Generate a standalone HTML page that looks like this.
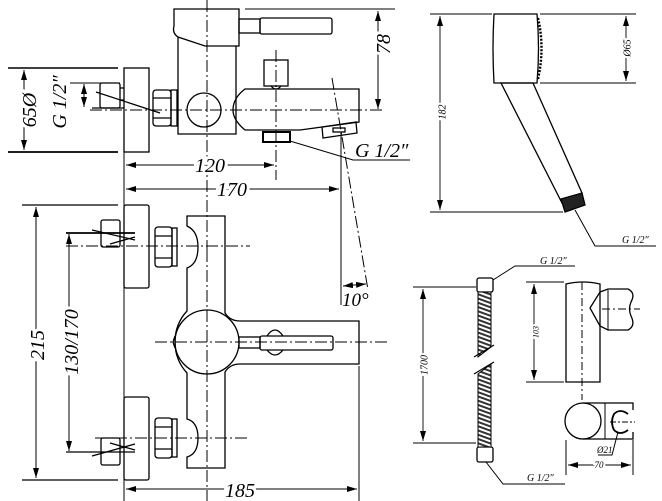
<!DOCTYPE html>
<html><head><meta charset="utf-8"><style>
html,body{margin:0;padding:0;background:#fff}
svg{display:block}
text{font-family:"Liberation Serif",serif;font-style:italic;fill:#000}
</style></head><body>
<svg width="662" height="501" viewBox="0 0 662 501" xmlns="http://www.w3.org/2000/svg">
<defs>
<marker id="a" viewBox="0 0 10 6" refX="10" refY="3" markerWidth="10" markerHeight="6" orient="auto-start-reverse" markerUnits="userSpaceOnUse"><path d="M0,0L10,3L0,6z" fill="#000"/></marker>
<pattern id="h" width="6" height="4" patternUnits="userSpaceOnUse" patternTransform="rotate(20)"><rect width="6" height="4" fill="#fff"/><rect width="6" height="2" fill="#333"/></pattern>
</defs>
<g fill="none" stroke="#000" stroke-width="1.3">
<g stroke-width="1" stroke-dasharray="12,3,2,3">
<line x1="207" y1="0" x2="207" y2="250"/>
<line x1="90" y1="110" x2="385" y2="110"/>
<line x1="276" y1="50" x2="276" y2="180"/>
<line x1="332" y1="78" x2="368" y2="290"/>
<line x1="66" y1="246" x2="250" y2="246"/>
<line x1="95" y1="438" x2="250" y2="438"/>
<line x1="155" y1="342" x2="390" y2="342"/>
<line x1="207" y1="250" x2="207" y2="501"/>
</g>
<path d="M174,9H239V46H205L178,37Q172,33 174,26Z"/>
<rect x="239" y="19" width="21" height="14"/>
<rect x="260" y="18" width="72" height="16" rx="2"/>
<path d="M178,37V134H236V46"/>
<rect x="264" y="60" width="24" height="26"/>
<path d="M271,86Q276,92 281,86"/>
<rect x="124" y="68" width="25" height="84"/>
<rect x="153" y="90" width="18" height="36" rx="3"/>
<line x1="153" y1="98" x2="171" y2="98"/><line x1="153" y1="118" x2="171" y2="118"/>
<rect x="171" y="90" width="6" height="36"/>
<circle cx="204" cy="110" r="17"/>
<path d="M245,89H359V122L300,130H245Q233,120 233,110Q233,98 245,89Z"/>
<rect x="263" y="132" width="27" height="10" stroke-width="2"/>
<path d="M322,127L356,122L357,133L323,138Z"/>
<rect x="333" y="128" width="12" height="4"/>
<rect x="100" y="83" width="20" height="25" rx="2"/>
<line x1="92" y1="108" x2="124" y2="108"/>
<line x1="96" y1="92" x2="160" y2="113"/>
<line x1="120" y1="88" x2="124" y2="88"/><line x1="120" y1="100" x2="124" y2="100"/>
<line x1="8" y1="68" x2="118" y2="68" stroke-width="1.5"/>
<line x1="8" y1="152" x2="118" y2="152" stroke-width="1.8"/>
<line x1="24" y1="70" x2="24" y2="150" stroke-width="1" marker-start="url(#a)" marker-end="url(#a)"/>
<line x1="70" y1="83" x2="120" y2="83" stroke-width="1"/>
<line x1="84" y1="84" x2="84" y2="107" stroke-width="1" marker-start="url(#a)" marker-end="url(#a)"/>
<line x1="245" y1="9" x2="395" y2="9" stroke-width="1"/>
<line x1="378" y1="11" x2="378" y2="109" stroke-width="1" marker-start="url(#a)" marker-end="url(#a)"/>
<line x1="124" y1="152" x2="124" y2="501" stroke-width="1"/>
<line x1="126" y1="165" x2="274" y2="165" stroke-width="1" marker-start="url(#a)" marker-end="url(#a)"/>
<line x1="126" y1="189" x2="339" y2="189" stroke-width="1" marker-start="url(#a)" marker-end="url(#a)"/>
<line x1="341" y1="133" x2="341" y2="305" stroke-width="1"/>
<line x1="343" y1="286" x2="366" y2="284" stroke-width="1" marker-start="url(#a)" marker-end="url(#a)"/>
<polyline points="290,141 353,160 410,160" stroke-width="1"/>
<rect x="124" y="205" width="25" height="83" rx="2"/>
<rect x="124" y="397" width="25" height="83" rx="2"/>
<path d="M187,216H225V313Q230,321 240,321H359V364H240Q230,364 225,372V468H187V457Q198,454 198,438Q198,422 187,419V373Q175,360 175,342Q175,324 187,311V268Q198,264 198,247Q198,231 187,226Z"/>
<circle cx="207" cy="342" r="32"/>
<path d="M175,336L173,342L175,348"/>
<rect x="239" y="337" width="21" height="11"/>
<rect x="260" y="336" width="73" height="14" rx="2"/>
<path d="M267,336Q275,324 283,336M267,350Q275,360 283,350"/>
<rect x="155" y="227" width="17" height="40" rx="3"/>
<line x1="155" y1="236" x2="172" y2="236"/><line x1="155" y1="258" x2="172" y2="258"/>
<rect x="172" y="228" width="5" height="38"/>
<rect x="155" y="418" width="17" height="40" rx="3"/>
<line x1="155" y1="427" x2="172" y2="427"/><line x1="155" y1="449" x2="172" y2="449"/>
<rect x="172" y="419" width="5" height="38"/>
<rect x="101" y="220" width="19" height="27" rx="2"/>
<rect x="101" y="438" width="19" height="27" rx="2"/>
<line x1="92" y1="230" x2="135" y2="240"/><line x1="110" y1="244" x2="135" y2="237"/>
<line x1="92" y1="456" x2="135" y2="444"/><line x1="110" y1="443" x2="135" y2="450"/>
<line x1="22" y1="205" x2="118" y2="205" stroke-width="1.3"/>
<line x1="22" y1="480" x2="118" y2="480" stroke-width="1.3"/>
<line x1="36" y1="207" x2="36" y2="478" stroke-width="1" marker-start="url(#a)" marker-end="url(#a)"/>
<line x1="66" y1="233" x2="135" y2="233" stroke-width="1.8"/>
<line x1="69" y1="234" x2="69" y2="451" stroke-width="1" marker-start="url(#a)" marker-end="url(#a)"/>
<line x1="66" y1="452" x2="135" y2="452" stroke-width="1.3"/>
<line x1="359" y1="366" x2="359" y2="501" stroke-width="1"/>
<line x1="126" y1="489" x2="357" y2="489" stroke-width="1" marker-start="url(#a)" marker-end="url(#a)"/>
<path d="M494,14H537Q540,48 537,83H494Q492,48 494,14Z"/>
<path d="M538,18Q545,48 538,79" stroke-dasharray="2,1.5" stroke-width="2.4"/>
<path d="M501,83L533,83L582,193L562,203Z"/>
<path d="M561,199L582,193L585,205L565,212Z" fill="#222"/>
<line x1="430" y1="14" x2="492" y2="14" stroke-width="1"/>
<line x1="430" y1="212" x2="563" y2="212" stroke-width="1"/>
<line x1="440" y1="16" x2="440" y2="210" stroke-width="0.9" marker-start="url(#a)" marker-end="url(#a)"/>
<line x1="540" y1="14" x2="636" y2="14" stroke-width="1"/>
<line x1="540" y1="83" x2="636" y2="83" stroke-width="1"/>
<line x1="626" y1="16" x2="626" y2="81" stroke-width="0.9" marker-start="url(#a)" marker-end="url(#a)"/>
<polyline points="575,210 595,246 656,246" stroke-width="1"/>
<rect x="477" y="278" width="16" height="14" rx="2"/>
<rect x="477" y="447" width="16" height="15" rx="2"/>
<path d="M478,292V357L491,347V292Z" fill="url(#h)" stroke-width="1"/>
<path d="M478,374L491,364V447H478Z" fill="url(#h)" stroke-width="1"/>
<path d="M474,357L494,345M474,374L494,362" stroke-width="1.2"/>
<polyline points="493,280 515,266 575,266" stroke-width="1"/>
<polyline points="486,462 503,484 565,484" stroke-width="1"/>
<line x1="413" y1="287" x2="476" y2="287" stroke-width="1"/>
<line x1="413" y1="443" x2="476" y2="443" stroke-width="1"/>
<line x1="423" y1="289" x2="423" y2="441" stroke-width="0.9" marker-start="url(#a)" marker-end="url(#a)"/>
<path d="M566,284Q583,280 600,284V382H566Z"/>
<path d="M600,292L608,289H628Q636,293 631,302Q628,309 631,316Q636,326 628,330H608L600,326L590,308Z"/>
<line x1="608" y1="290" x2="608" y2="330" stroke-width="1"/>
<line x1="582" y1="282" x2="582" y2="400" stroke-width="1" stroke-dasharray="8,3,2,3"/>
<line x1="602" y1="309" x2="640" y2="309" stroke-width="1" stroke-dasharray="8,3,2,3"/>
<line x1="526" y1="282" x2="564" y2="282" stroke-width="1"/>
<line x1="526" y1="382" x2="564" y2="382" stroke-width="1"/>
<line x1="534" y1="284" x2="534" y2="380" stroke-width="0.9" marker-start="url(#a)" marker-end="url(#a)"/>
<circle cx="583" cy="421" r="18"/>
<path d="M583,403H633V410M583,439H633V432"/>
<line x1="605" y1="403" x2="605" y2="439" stroke-width="1"/>
<path d="M628,414Q620,408 614,414Q610,422 614,430Q620,436 628,430" stroke-width="1.8"/>
<line x1="610" y1="422" x2="635" y2="422" stroke-width="1" stroke-dasharray="6,2,2,2"/>
<polyline points="618,432 612,455 598,455" stroke-width="1"/>
<line x1="566" y1="440" x2="566" y2="475" stroke-width="1"/>
<line x1="633" y1="440" x2="633" y2="475" stroke-width="1"/>
<line x1="568" y1="465" x2="631" y2="465" stroke-width="0.9" marker-start="url(#a)" marker-end="url(#a)"/>
</g>
<g font-size="20">
<text transform="translate(30,110) rotate(-90)" text-anchor="middle" dominant-baseline="central" stroke="#fff" stroke-width="6" style="paint-order:stroke">65Ø</text>
<text transform="translate(60,102) rotate(-90)" text-anchor="middle" dominant-baseline="central">G 1/2″</text>
<text transform="translate(384,44) rotate(-90)" text-anchor="middle" dominant-baseline="central" stroke="#fff" stroke-width="6" style="paint-order:stroke">78</text>
<text x="210" y="172" text-anchor="middle" stroke="#fff" stroke-width="6" style="paint-order:stroke">120</text>
<text x="232" y="196" text-anchor="middle" stroke="#fff" stroke-width="6" style="paint-order:stroke">170</text>
<text x="355" y="157">G 1/2″</text>
<text x="342" y="306" font-size="19">10°</text>
<text transform="translate(38,345) rotate(-90)" text-anchor="middle" dominant-baseline="central" stroke="#fff" stroke-width="6" style="paint-order:stroke">215</text>
<text transform="translate(72,342) rotate(-90)" text-anchor="middle" dominant-baseline="central" stroke="#fff" stroke-width="6" style="paint-order:stroke">130/170</text>
<text x="240" y="497" text-anchor="middle" stroke="#fff" stroke-width="6" style="paint-order:stroke">185</text>
</g>
<g font-size="10">
<text transform="translate(443,112) rotate(-90)" text-anchor="middle" dominant-baseline="central" stroke="#fff" stroke-width="4" style="paint-order:stroke">182</text>
<text transform="translate(628,48) rotate(-90)" text-anchor="middle" dominant-baseline="central" stroke="#fff" stroke-width="4" style="paint-order:stroke">Ø65</text>
<text x="622" y="243">G 1/2″</text>
<text x="540" y="264">G 1/2″</text>
<text transform="translate(425,365) rotate(-90)" text-anchor="middle" dominant-baseline="central" stroke="#fff" stroke-width="4" style="paint-order:stroke">1700</text>
<text transform="translate(536,332) rotate(-90)" text-anchor="middle" dominant-baseline="central" stroke="#fff" stroke-width="4" style="paint-order:stroke" font-size="8">103</text>
<text x="527" y="481">G 1/2″</text>
<text x="597" y="453" font-size="9">Ø21</text>
<text x="599" y="468" text-anchor="middle" font-size="9" stroke="#fff" stroke-width="4" style="paint-order:stroke">70</text>
</g>
</svg>
</body></html>
